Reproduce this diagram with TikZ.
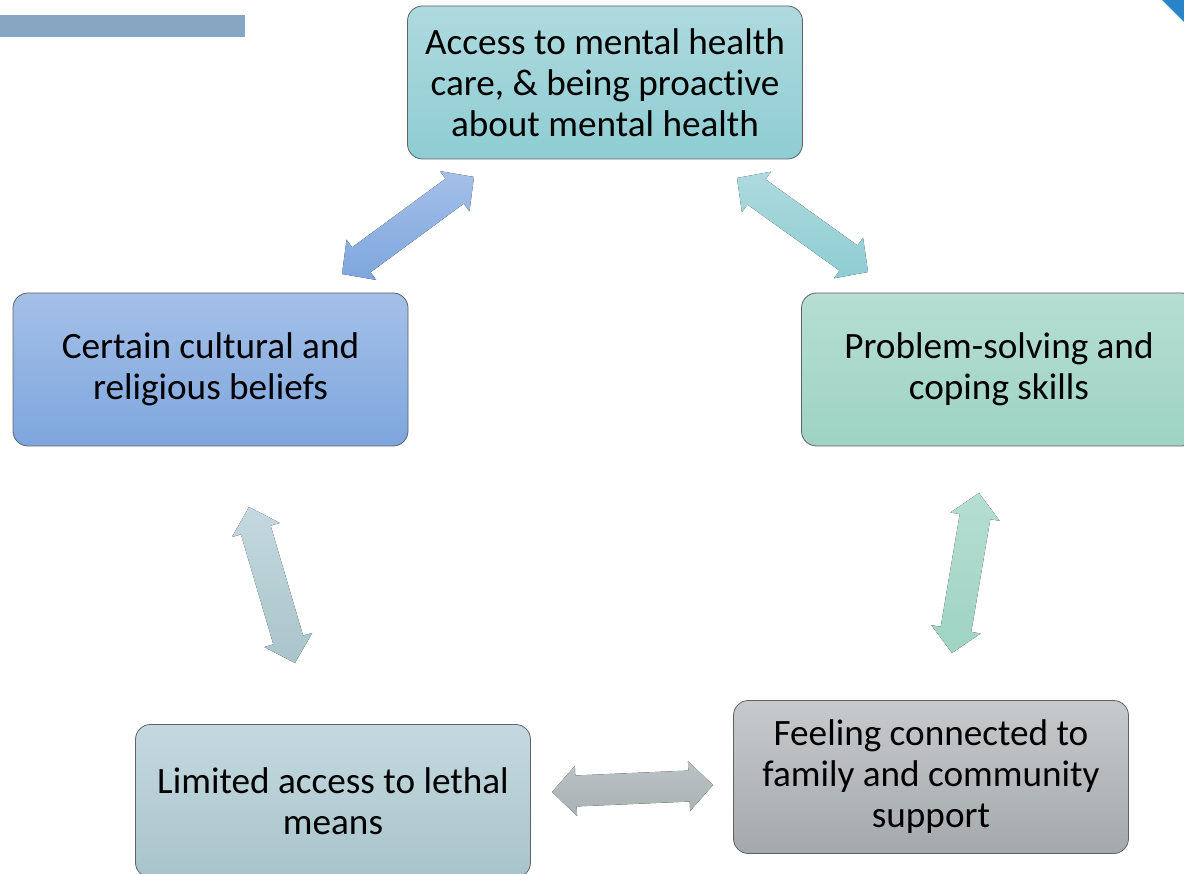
\documentclass[tikz,border=0pt]{standalone}
\usepackage{fontspec}
\setmainfont{Carlito}[Ligatures=NoCommon]
\usepackage{xcolor}
\usetikzlibrary{calc}

\definecolor{boxline}{HTML}{5E6266}
\definecolor{stripblue}{HTML}{87A6C2}
\definecolor{cornerblue}{HTML}{2A82C8}
\definecolor{accessTop}{HTML}{AEDADE}
\definecolor{accessBot}{HTML}{8ECDD3}
\definecolor{beliefTop}{HTML}{A4C0E8}
\definecolor{beliefBot}{HTML}{7EA6DD}
\definecolor{copingTop}{HTML}{B6DED3}
\definecolor{copingBot}{HTML}{9ED3C3}
\definecolor{familyTop}{HTML}{C6CACC}
\definecolor{familyBot}{HTML}{A4A9AB}
\definecolor{meansTop}{HTML}{C4D9DF}
\definecolor{meansBot}{HTML}{A8C4CA}
\definecolor{linkTop}{HTML}{BAC3C5}
\definecolor{linkBot}{HTML}{A9B1B3}

\newcommand{\fatarrow}[3][]{%
  \coordinate (fa-s) at ($(#2)!24pt!(#3)$);
  \coordinate (fa-e) at ($(#3)!24pt!(#2)$);
  \fill[#1] (#2) -- ($(fa-s)!25pt!90:(#3)$) -- ($(fa-s)!15.5pt!90:(#3)$)
    -- ($(fa-e)!15.5pt!-90:(#2)$) -- ($(fa-e)!25pt!-90:(#2)$) -- (#3)
    -- ($(fa-e)!25pt!90:(#2)$) -- ($(fa-e)!15.5pt!90:(#2)$)
    -- ($(fa-s)!15.5pt!-90:(#3)$) -- ($(fa-s)!25pt!-90:(#3)$) -- cycle;}

\begin{document}
\begin{tikzpicture}[x=1pt, y=-1pt]
        \useasboundingbox (0,0) rectangle (1184,874);
        \clip (0,0) rectangle (1184,874);

        \fill[stripblue] (0,15) rectangle (245,37);
        \fill[cornerblue] (1162,0) -- (1184,0) -- (1184,22) -- cycle;

        \begin{scope}[every node/.style = {draw=boxline, line width=0.8pt,
                        rounded corners=15pt, inner sep=0pt,
                        minimum width=395pt, minimum height=153pt,
                        align=center, font=\fontsize{37.2}{41}\selectfont}]
            \node[top color=accessTop, bottom color=accessBot] (access) at (605, 82.5)
                {Access to mental health\\care, \& being proactive\\about mental health};

            \node[top color=beliefTop, bottom color=beliefBot] (beliefs) at (210.5, 369.5)
                {Certain cultural and\\religious beliefs};
            \node[top color=copingTop, bottom color=copingBot] (coping) at (999, 369.5)
                {Problem-solving and\\coping skills};

            \node[top color=meansTop, bottom color=meansBot] (means) at (333, 801)
                {Limited access to lethal\\means};
            \node[top color=familyTop, bottom color=familyBot] (family) at (931, 777)
                {Feeling connected to\\family and community\\support};
        \end{scope}

        \coordinate (b-a) at (342, 274);
        \coordinate (a-b) at (474, 177);
        \coordinate (a-c) at (737, 178);
        \coordinate (c-a) at (868, 272);
        \coordinate (c-f) at (979, 493);
        \coordinate (f-c) at (952, 653);
        \coordinate (f-m) at (713, 785);
        \coordinate (m-f) at (552, 792);
        \coordinate (m-b) at (295, 663);
        \coordinate (b-m) at (249, 507);

        \fatarrow[top color=beliefTop, bottom color=beliefBot]{b-a}{a-b}
        \fatarrow[top color=accessTop, bottom color=accessBot]{a-c}{c-a}
        \fatarrow[top color=copingTop, bottom color=copingBot]{c-f}{f-c}
        \fatarrow[top color=linkTop, bottom color=linkBot]{f-m}{m-f}
        \fatarrow[top color=meansTop, bottom color=meansBot]{m-b}{b-m}
    \end{tikzpicture}
\end{document}
